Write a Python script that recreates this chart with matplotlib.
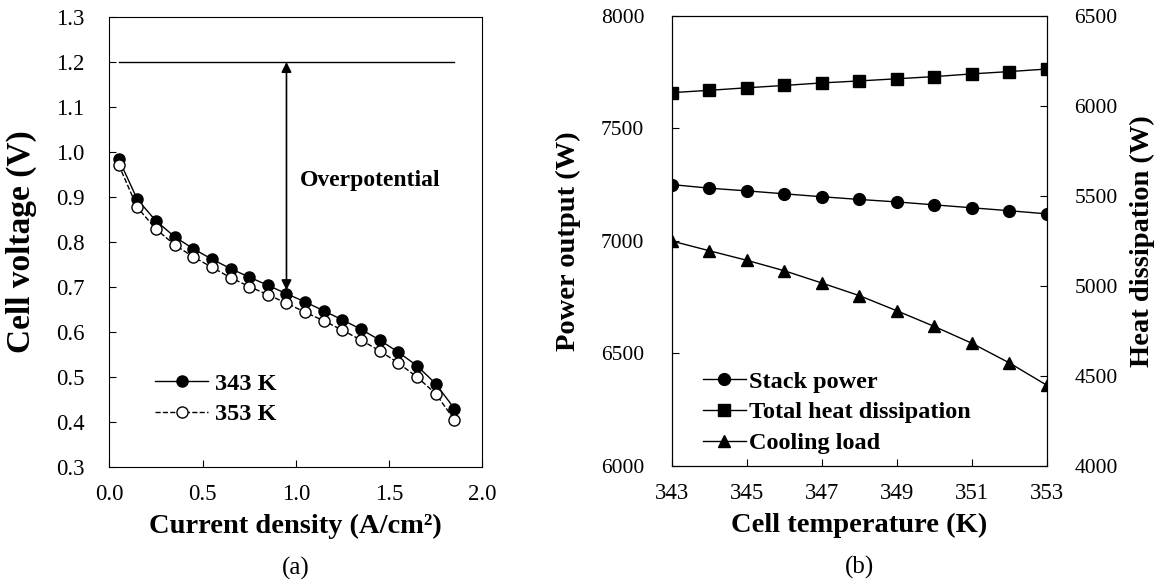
import numpy as np
import matplotlib.pyplot as plt

plt.rcParams['font.family'] = ['Liberation Serif', 'DejaVu Serif']

# (a) polarization curves
j = [0.05, 0.15, 0.25, 0.35, 0.45, 0.55, 0.65, 0.75, 0.85, 0.95,
     1.05, 1.15, 1.25, 1.35, 1.45, 1.55, 1.65, 1.75, 1.85]
v_343 = [0.985, 0.895, 0.847, 0.812, 0.785, 0.762, 0.741, 0.722, 0.704, 0.685,
         0.667, 0.647, 0.627, 0.606, 0.582, 0.555, 0.525, 0.485, 0.430]
v_353 = [0.972, 0.877, 0.829, 0.794, 0.767, 0.744, 0.721, 0.701, 0.683, 0.664,
         0.644, 0.625, 0.604, 0.582, 0.558, 0.531, 0.500, 0.463, 0.405]
v_rev = 1.2

# (b) temperature sweep
temp = [343, 344, 345, 346, 347, 348, 349, 350, 351, 352, 353]
stack_power = [7250, 7234, 7222, 7209, 7196, 7184, 7173, 7160, 7147, 7134, 7120]
total_heat = [6073, 6086, 6100, 6113, 6127, 6138, 6150, 6162, 6177, 6190, 6204]
cooling_load = [5249, 5195, 5142, 5084, 5016, 4946, 4862, 4775, 4682, 4573, 4449]

LAB = 20.5
LEG = {'weight': 'bold', 'size': 17.5}

fig = plt.figure(figsize=(11.6, 5.87), dpi=100)

# ---- (a)
ax1 = fig.add_axes([0.0942, 0.2044, 0.3216, 0.7666])
ax1.plot(j, v_343, 'k-', marker='o', ms=8, mfc='k', lw=1.0, label='343 K')
ax1.plot(j, v_353, 'k--', marker='o', ms=8, mfc='white', lw=1.0, label='353 K')
ax1.plot([j[0], j[-1]], [v_rev, v_rev], 'k-', lw=1.0)
ax1.annotate('', xy=(0.95, 0.693), xytext=(0.95, v_rev),
             arrowprops=dict(arrowstyle='<|-|>', color='k', lw=1.2,
                             mutation_scale=15, shrinkA=0, shrinkB=0))
ax1.text(1.022, 0.936, 'Overpotential', fontsize=17, fontweight='bold', va='center')
ax1.set_xlim(0, 2.0)
ax1.set_ylim(0.3, 1.3)
ax1.set_xticks(np.arange(0, 2.01, 0.5))
ax1.set_yticks(np.arange(0.3, 1.31, 0.1))
ax1.xaxis.set_major_formatter(plt.FormatStrFormatter('%.1f'))
ax1.yaxis.set_major_formatter(plt.FormatStrFormatter('%.1f'))
ax1.tick_params(direction='in', labelsize=16.5, length=5)
ax1.tick_params(axis='x', pad=12)
ax1.tick_params(axis='y', pad=18)
ax1.set_xlabel('Current density (A/cm²)', fontsize=LAB, fontweight='bold')
ax1.set_ylabel('Cell voltage (V)', fontsize=24, fontweight='bold')
ax1.xaxis.set_label_coords(0.5, -0.103)
ax1.yaxis.set_label_coords(-0.194, 0.5)
ax1.legend(loc='upper left', bbox_to_anchor=(0.1225, 0.21), frameon=False,
           prop=LEG, borderpad=0, borderaxespad=0,
           handlelength=2.2, handletextpad=0.25, labelspacing=0.36)
ax1.text(0.5, -0.225, '(a)', transform=ax1.transAxes, fontsize=18,
         ha='center', va='center')

# ---- (b)
ax2 = fig.add_axes([0.5793, 0.2061, 0.323, 0.7671])
ax3 = ax2.twinx()
l1, = ax2.plot(temp, stack_power, 'k-', marker='o', ms=8.5, lw=1.0, label='Stack power')
l2, = ax3.plot(temp, total_heat, 'k-', marker='s', ms=8.5, lw=1.0,
               label='Total heat dissipation')
l3, = ax3.plot(temp, cooling_load, 'k-', marker='^', ms=9, lw=1.0, label='Cooling load')
ax2.set_xlim(343, 353)
ax2.set_ylim(6000, 8000)
ax3.set_ylim(4000, 6500)
ax2.set_xticks(np.arange(343, 354, 2))
ax2.set_yticks(np.arange(6000, 8001, 500))
ax3.set_yticks(np.arange(4000, 6501, 500))
for a in (ax2, ax3):
    a.tick_params(direction='in', labelsize=15.5, length=5, pad=20)
ax2.tick_params(axis='x', labelsize=16.5, pad=12)
ax2.set_xlabel('Cell temperature (K)', fontsize=LAB, fontweight='bold')
ax2.set_ylabel('Power output (W)', fontsize=LAB, fontweight='bold')
ax3.set_ylabel('Heat dissipation (W)', fontsize=LAB, fontweight='bold')
ax2.xaxis.set_label_coords(0.5, -0.103)
ax2.yaxis.set_label_coords(-0.243, 0.5)
ax3.yaxis.set_label_coords(1.222, 0.5)
ax2.legend(handles=[l1, l2, l3], loc='upper left', bbox_to_anchor=(0.083, 0.212),
           frameon=False, prop=LEG, borderpad=0, borderaxespad=0,
           handlelength=1.75, handletextpad=0.15, labelspacing=0.36)
ax2.text(0.5, -0.225, '(b)', transform=ax2.transAxes, fontsize=18,
         ha='center', va='center')

fig.savefig('out.png', dpi=100)
